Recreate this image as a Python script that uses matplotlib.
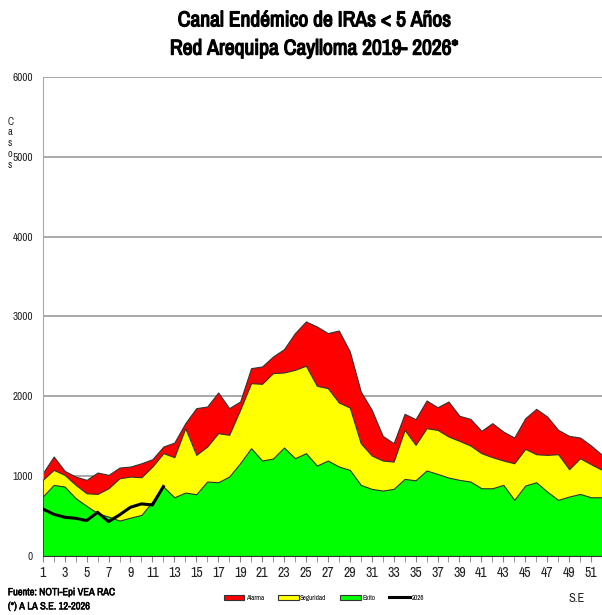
import matplotlib
matplotlib.use("Agg")
import matplotlib.pyplot as plt
import matplotlib.patheffects as pe
from matplotlib import font_manager as fm
import numpy as np

weeks = np.arange(1, 53)

# alarma (upper limit of red band)
alarma = [1036, 1245, 1065, 994, 953, 1045, 1015, 1107, 1120, 1161, 1212, 1370, 1420,
          1663, 1851, 1872, 2047, 1851, 1934, 2352, 2373, 2498, 2590, 2791, 2937, 2874,
          2791, 2824, 2561, 2060, 1830, 1504, 1412, 1780, 1713, 1947, 1863, 1934, 1755,
          1717, 1567, 1663, 1558, 1483, 1725, 1842, 1746, 1579, 1504, 1483, 1383, 1266]
# seguridad (upper limit of yellow band)
seguridad = [953, 1078, 1015, 890, 785, 777, 848, 973, 994, 986, 1120, 1287, 1237,
             1600, 1266, 1370, 1538, 1517, 1830, 2164, 2156, 2290, 2298, 2331, 2382, 2131,
             2102, 1922, 1859, 1412, 1258, 1195, 1182, 1579, 1391, 1600, 1579, 1496, 1441,
             1383, 1287, 1237, 1195, 1161, 1341, 1274, 1266, 1274, 1086, 1224, 1149, 1078]
# exito (upper limit of green band)
exito = [744, 890, 869, 723, 627, 535, 493, 443, 480, 514, 681, 869, 735,
         794, 773, 932, 923, 994, 1161, 1350, 1195, 1220, 1358, 1224, 1287, 1132,
         1195, 1120, 1078, 890, 840, 819, 840, 965, 948, 1070, 1028, 982, 953,
         932, 848, 848, 890, 702, 882, 923, 806, 702, 744, 777, 735, 735]
# casos 2026 hasta la S.E. 12
casos_2026 = [589, 522, 485, 472, 443, 547, 430, 514, 610, 652, 639, 869]

# narrow font like Arial Narrow if there is one
installed = set(f.name for f in fm.fontManager.ttflist)
narrow = None
for nm in ['Liberation Sans Narrow', 'Arial Narrow', 'Archivo Narrow', 'PT Sans Narrow',
           'Roboto Condensed', 'Pragati Narrow', 'Fira Sans Condensed', 'IBM Plex Sans Condensed',
           'Open Sans Condensed']:
    if nm in installed:
        narrow = nm
        break
fams = ([narrow] if narrow else []) + ['Liberation Sans', 'DejaVu Sans']
plt.rcParams['font.family'] = fams

# fake bold (narrow font has no bold face here)
bold = [pe.withStroke(linewidth=0.9, foreground='black')]
bold_small = [pe.withStroke(linewidth=0.35, foreground='black')]

fig = plt.figure(figsize=(6.02, 6.15), dpi=100)
ax = fig.add_axes([0.071, 0.096, 0.929, 0.779])

edge = '#333333'
ax.fill_between(weeks, 0, alarma, color='#ff0000', edgecolor=edge, linewidth=0.8, label='Alarma', zorder=2)
ax.fill_between(weeks, 0, seguridad, color='#ffff00', edgecolor=edge, linewidth=0.8, label='Seguridad', zorder=3)
ax.fill_between(weeks, 0, exito, color='#00ff00', edgecolor=edge, linewidth=0.8, label='Exito', zorder=4)
ax.plot(weeks[:len(casos_2026)], casos_2026, color='black', linewidth=2.2, label='2026', zorder=5)

ax.set_xlim(1, 51.6)
ax.set_ylim(0, 6000)
ax.set_yticks(range(0, 6001, 1000))
ax.set_xticks(range(1, 53, 2))
ax.set_xticks(range(1, 53), minor=True)
ax.tick_params(axis='x', which='both', length=4, color='#888888', labelsize=10, pad=3,
               labelcolor='#222222')
ax.tick_params(axis='y', length=0, labelsize=8, pad=7, labelcolor='#222222')
ax.yaxis.grid(True, color='#999999', linewidth=1.2, zorder=0)
ax.set_axisbelow(True)
for s in ['top', 'right']:
    ax.spines[s].set_visible(False)
ax.spines['left'].set_color('#aaaaaa')
ax.spines['bottom'].set_color('#888888')

fig.text(0.522, 0.967, 'Canal Endémico de IRAs < 5 Años', ha='center', va='center',
         fontsize=15.5, fontweight='bold', path_effects=bold)
fig.text(0.522, 0.921, 'Red Arequipa Caylloma 2019- 2026*', ha='center', va='center',
         fontsize=15.5, fontweight='bold', path_effects=bold)
fig.text(0.017, 0.767, 'C\na\ns\no\ns', ha='center', va='center', fontsize=7.5, linespacing=1.1,
         color='#222222')

fig.text(0.013, 0.037, 'Fuente: NOTI-Epi VEA RAC', fontsize=7.5, fontweight='bold', va='center',
         path_effects=bold_small)
fig.text(0.013, 0.014, '(*) A LA S.E. 12-2026', fontsize=7.5, fontweight='bold', va='center',
         path_effects=bold_small)
fig.text(0.958, 0.027, 'S.E', fontsize=9, va='center', ha='center', color='#222222')

fig.legend(loc='center', bbox_to_anchor=(0.538, 0.028), ncol=4, fontsize=5, frameon=False,
           handlelength=3.0, handleheight=0.6, columnspacing=2.0, handletextpad=0.2)

fig.savefig('out.png', dpi=100)
